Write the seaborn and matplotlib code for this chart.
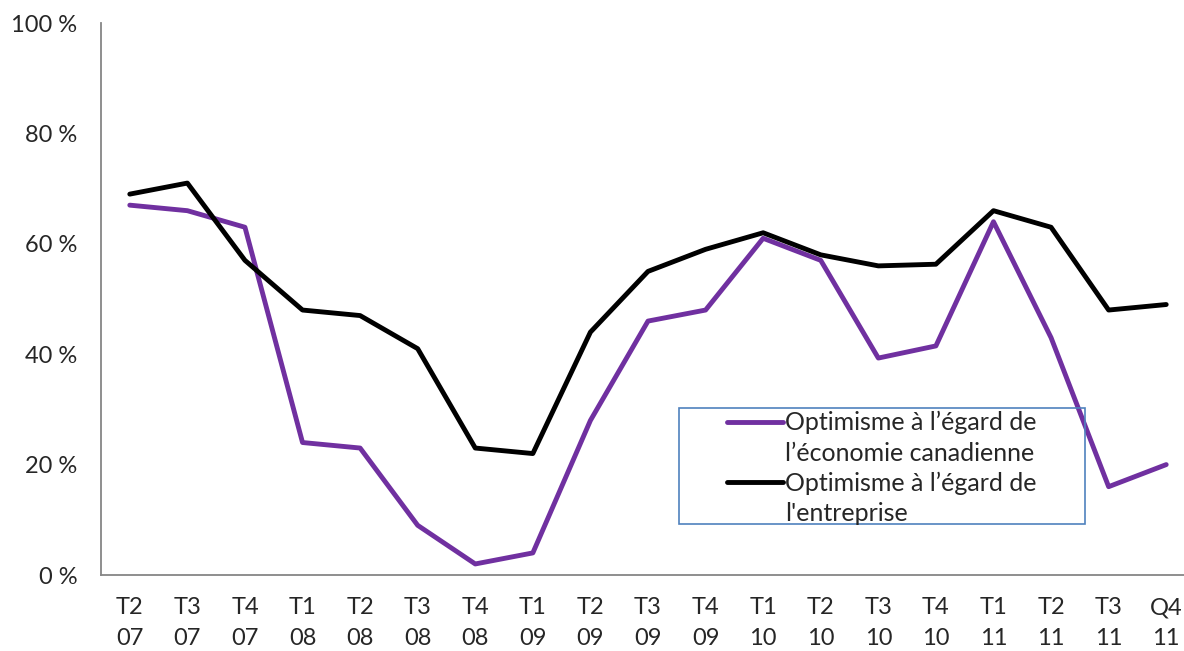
import numpy as np
import pandas as pd
import matplotlib.pyplot as plt
import seaborn as sns
from matplotlib.lines import Line2D
from matplotlib.patches import Rectangle

# Chart data
quarters = ["T2\n07", "T3\n07", "T4\n07", "T1\n08", "T2\n08", "T3\n08", "T4\n08",
            "T1\n09", "T2\n09", "T3\n09", "T4\n09", "T1\n10", "T2\n10", "T3\n10",
            "T4\n10", "T1\n11", "T2\n11", "T3\n11", "Q4\n11"]
economie = [67, 66, 63, 24, 23, 9, 2, 4, 28, 46, 48, 61, 57, 39.3, 41.5, 64, 43, 16, 20]
entreprise = [69, 71, 57, 48, 47, 41, 23, 22, 44, 55, 59, 62, 58, 56, 56.3, 66, 63, 48, 49]
series_names = ["Optimisme à l’égard de l’économie canadienne",
                "Optimisme à l’égard de l'entreprise"]
legend_lines = [["Optimisme à l’égard de", "l’économie canadienne"],
                ["Optimisme à l’égard de", "l'entreprise"]]
yticks = [0, 20, 40, 60, 80, 100]

colors = ["#7030A0", "#000000"]

sns.set_style("white")
plt.rcParams['font.family'] = ['Lato', 'DejaVu Sans']

df = pd.DataFrame({
    "pos": list(range(len(quarters))) * 2,
    "value": economie + entreprise,
    "serie": [series_names[0]] * len(quarters) + [series_names[1]] * len(quarters),
})

W, H = 1184, 651
fig = plt.figure(figsize=(W / 100, H / 100), dpi=100)
ax = fig.add_axes([101 / W, 1 - 575 / H, (1195 - 101) / W, 552 / H])

sns.lineplot(data=df, x="pos", y="value", hue="serie", palette=colors,
             linewidth=3.5, legend=False, ax=ax, solid_joinstyle="round")

ax.set_xlim(-0.5, len(quarters) - 0.5)
ax.set_ylim(0, 100)
ax.set_xlabel("")
ax.set_ylabel("")

ax.set_xticks(range(len(quarters)))
ax.set_xticklabels(quarters, fontsize=17, linespacing=1.55)
ax.set_xticks(np.arange(-0.5, len(quarters), 1), minor=True)
ax.tick_params(axis="x", which="major", length=0, pad=16)
ax.tick_params(axis="x", which="minor", length=7, width=1.3, color="#868686", direction="out")

ax.set_yticks(yticks)
ax.set_yticklabels([f"{v} %" for v in yticks], fontsize=17)
ax.tick_params(axis="y", length=7, width=1.3, color="#868686", direction="out", pad=10)

for s in ["top", "right"]:
    ax.spines[s].set_visible(False)
for s in ["left", "bottom"]:
    ax.spines[s].set_color("#868686")
    ax.spines[s].set_linewidth(1.3)

# legend: box drawn separately, entries split over two lines
fig.patches.append(Rectangle((679 / W, 1 - 524 / H), (1085 - 679) / W, (524 - 408) / H,
                             transform=fig.transFigure, fill=False,
                             edgecolor="#4F81BD", linewidth=1.2))
handles, labels = [], []
for c, lines in zip(colors, legend_lines):
    handles.append(Line2D([], [], color=c, linewidth=3.5, solid_capstyle="round"))
    labels.append(lines[0])
    handles.append(Line2D([], [], color="none"))
    labels.append(lines[1])
fig.legend(handles, labels, loc="upper left", bbox_to_anchor=(727 / W, 1 - 411 / H),
           frameon=False, fontsize=18, handlelength=2.25, handletextpad=0.08,
           borderpad=0, borderaxespad=0, labelspacing=0.29)

fig.savefig("out.png", dpi=100)
